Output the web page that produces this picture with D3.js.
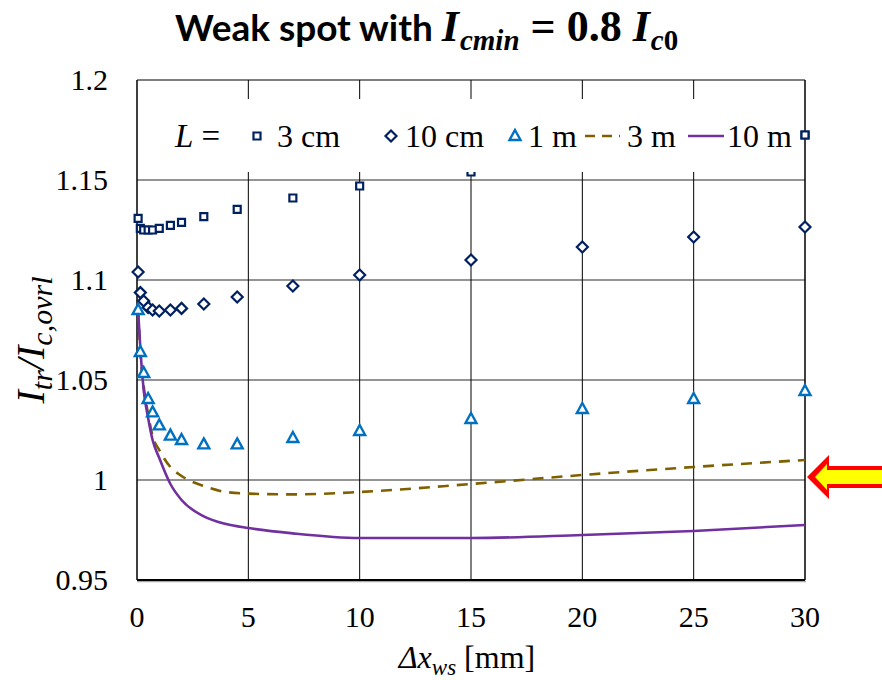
<!DOCTYPE html>
<html lang="en">
<head>
<meta charset="utf-8">
<title>Weak spot</title>
<script src="https://cdn.jsdelivr.net/npm/d3@7"></script>
<style>
  body { margin: 0; background: #fff; }
</style>
</head>
<body>
<script>
// x positions (mm) where the markers were computed
var xMarkers = [0.05, 0.15, 0.3, 0.5, 0.7, 1, 1.5, 2, 3, 4.5, 7, 10, 15, 20, 25, 30];
var y3cm  = [1.1308, 1.1258, 1.125, 1.125, 1.125, 1.1258, 1.1273, 1.1288, 1.1317, 1.1353, 1.141, 1.147, 1.154, 1.160, 1.166, 1.1725];
var y10cm = [1.104, 1.0937, 1.0895, 1.0863, 1.085, 1.0845, 1.085, 1.0858, 1.088, 1.0915, 1.097, 1.1025, 1.110, 1.1165, 1.1215, 1.1265];
var y1m   = [1.085, 1.064, 1.0535, 1.0405, 1.0338, 1.0273, 1.0222, 1.020, 1.0178, 1.0178, 1.021, 1.0245, 1.0305, 1.0355, 1.0405, 1.0445];

// the two curves
var xLines = [0.05, 0.15, 0.3, 0.5, 0.7, 1, 1.5, 2, 3, 4, 5, 7, 10, 15, 20, 25, 30];
var y3m  = [1.085, 1.064, 1.047, 1.033, 1.022, 1.015, 1.0065, 1.002, 0.997, 0.994, 0.9932, 0.9928, 0.994, 0.998, 1.0025, 1.0065, 1.010];
var y10m = [1.085, 1.066, 1.045, 1.031, 1.020, 1.011, 0.998, 0.990, 0.9818, 0.978, 0.976, 0.9733, 0.971, 0.971, 0.9725, 0.9745, 0.9775];

var xTicks = [0, 5, 10, 15, 20, 25, 30];
var yTicks = [0.95, 1, 1.05, 1.1, 1.15, 1.2];
var yTickLabels = ["0.95", "1", "1.05", "1.1", "1.15", "1.2"];

var w = 882, h = 680;
// plot area edges (named so they don't clash with window.top)
var padL = 137, padR = 805, padT = 80, padB = 580;
var serif = "'Liberation Serif', Tinos, 'Times New Roman', Times, serif";

var svg = d3.select("body").append("svg")
  .attr("width", w).attr("height", h)
  .attr("font-family", serif);

var xScale = d3.scaleLinear().domain([0, 30]).range([padL, padR]);
var yScale = d3.scaleLinear().domain([0.95, 1.2]).range([padB, padT]);

// gridlines
svg.append("g").selectAll("line")
  .data(yTicks.slice(1, -1))
  .enter().append("line")
  .attr("x1", padL).attr("x2", padR)
  .attr("y1", function(d) { return yScale(d); })
  .attr("y2", function(d) { return yScale(d); })
  .attr("stroke", "#707070").attr("stroke-width", 1.6);

svg.append("g").selectAll("line")
  .data(xTicks.slice(1, -1))
  .enter().append("line")
  .attr("y1", padT).attr("y2", padB)
  .attr("x1", function(d) { return xScale(d); })
  .attr("x2", function(d) { return xScale(d); })
  .attr("stroke", "#000").attr("stroke-width", 1);

// frame
svg.append("line").attr("x1", padL).attr("x2", padR).attr("y1", padT).attr("y2", padT)
  .attr("stroke", "#000").attr("stroke-width", 1.2);
svg.append("line").attr("x1", padR).attr("x2", padR).attr("y1", padT).attr("y2", padB)
  .attr("stroke", "#000").attr("stroke-width", 1.5);
svg.append("line").attr("x1", padL).attr("x2", padR + 1).attr("y1", padB + 1.5).attr("y2", padB + 1.5)
  .attr("stroke", "#aaa").attr("stroke-width", 1.5);
svg.append("line").attr("x1", padL).attr("x2", padL).attr("y1", padT).attr("y2", padB)
  .attr("stroke", "#000").attr("stroke-width", 1.5);
svg.append("line").attr("x1", padL).attr("x2", padR).attr("y1", padB).attr("y2", padB)
  .attr("stroke", "#000").attr("stroke-width", 2);

// tick labels
svg.append("g").selectAll("text")
  .data(yTicks)
  .enter().append("text")
  .attr("x", 108)
  .attr("y", function(d) { return yScale(d) + 10; })
  .attr("text-anchor", "end")
  .attr("font-family", serif)
  .attr("font-size", 30)
  .text(function(d, i) { return yTickLabels[i]; });

svg.append("g").selectAll("text")
  .data(xTicks)
  .enter().append("text")
  .attr("x", function(d) { return xScale(d); })
  .attr("y", 627)
  .attr("text-anchor", "middle")
  .attr("font-family", serif)
  .attr("font-size", 30)
  .text(function(d) { return d; });

// curves
var line = function(ys) {
  return d3.line()
    .x(function(d, i) { return xScale(xLines[i]); })
    .y(function(d) { return yScale(d); })
    .curve(d3.curveMonotoneX)(ys);
};

svg.append("path").attr("d", line(y3m))
  .attr("fill", "none").attr("stroke", "#7F6000").attr("stroke-width", 2.6)
  .attr("stroke-dasharray", "11,8");
svg.append("path").attr("d", line(y10m))
  .attr("fill", "none").attr("stroke", "#7030A0").attr("stroke-width", 2.6);

// marker shapes
var squarePath = function(x, y) {
  return "M" + (x - 3.5) + "," + (y - 3.5) + "h7v7h-7Z";
};
var diamondPath = function(x, y) {
  return "M" + x + "," + (y - 5.5) + "L" + (x + 5.5) + "," + y + "L" + x + "," + (y + 5.5) + "L" + (x - 5.5) + "," + y + "Z";
};
var trianglePath = function(x, y) {
  return "M" + x + "," + (y - 6) + "L" + (x + 5.5) + "," + (y + 4) + "L" + (x - 5.5) + "," + (y + 4) + "Z";
};

var drawMarkers = function(ys, shape, color, sw) {
  svg.append("g").selectAll("path")
    .data(ys)
    .enter().append("path")
    .attr("d", function(d, i) { return shape(xScale(xMarkers[i]), yScale(d)); })
    .attr("fill", "#fff").attr("stroke", color).attr("stroke-width", sw);
};

drawMarkers(y3cm, squarePath, "#002060", 2.2);
drawMarkers(y10cm, diamondPath, "#002060", 2.2);
drawMarkers(y1m, trianglePath, "#0070C0", 2.4);

// legend
var lg = svg.append("g").attr("font-family", serif);
lg.append("rect").attr("x", 146).attr("y", 99).attr("width", 652).attr("height", 73)
  .attr("fill", "#fff");
var ly = 147;
lg.append("text").attr("x", 175).attr("y", ly).attr("font-size", 33)
  .html('<tspan font-style="italic">L</tspan> =');
lg.append("path").attr("d", squarePath(257, ly - 11))
  .attr("fill", "#fff").attr("stroke", "#002060").attr("stroke-width", 2.2);
lg.append("text").attr("x", 277).attr("y", ly).attr("font-size", 32).text("3 cm");
lg.append("path").attr("d", diamondPath(391, ly - 11))
  .attr("fill", "#fff").attr("stroke", "#002060").attr("stroke-width", 2.2);
lg.append("text").attr("x", 405).attr("y", ly).attr("font-size", 32).text("10 cm");
lg.append("path").attr("d", trianglePath(515, ly - 11))
  .attr("fill", "#fff").attr("stroke", "#0070C0").attr("stroke-width", 2.4);
lg.append("text").attr("x", 528).attr("y", ly).attr("font-size", 32).text("1 m");
lg.append("line").attr("x1", 585).attr("x2", 620).attr("y1", ly - 11).attr("y2", ly - 11)
  .attr("stroke", "#7F6000").attr("stroke-width", 2.6).attr("stroke-dasharray", "10,7");
lg.append("text").attr("x", 627).attr("y", ly).attr("font-size", 32).text("3 m");
lg.append("line").attr("x1", 688).attr("x2", 724).attr("y1", ly - 11).attr("y2", ly - 11)
  .attr("stroke", "#7030A0").attr("stroke-width", 2.6);
lg.append("text").attr("x", 727).attr("y", ly).attr("font-size", 32).text("10 m");

// the last 3 cm marker sits on the frame, above the legend
svg.append("path").attr("d", squarePath(xScale(30), yScale(y3cm[y3cm.length - 1])))
  .attr("fill", "#fff").attr("stroke", "#002060").attr("stroke-width", 2.2);

// title: sans words, serif math
svg.append("text").attr("x", 175).attr("y", 41)
  .attr("font-family", serif)
  .attr("font-weight", "bold")
  .html('<tspan font-family="Lato, sans-serif" font-size="37">Weak spot with </tspan>' +
        '<tspan font-style="italic" font-size="44">I</tspan>' +
        '<tspan font-style="italic" font-size="29" dx="1" dy="9">cmin</tspan>' +
        '<tspan font-size="44" dy="-9"> = 0.8 </tspan>' +
        '<tspan font-style="italic" font-size="44">I</tspan>' +
        '<tspan font-style="italic" font-size="29" dx="1" dy="9">c</tspan>' +
        '<tspan font-size="29">0</tspan>');

// axis titles
svg.append("text").attr("x", 467).attr("y", 668).attr("text-anchor", "middle")
  .attr("font-family", serif)
  .attr("font-size", 32)
  .html('<tspan font-style="italic">Δx</tspan><tspan font-style="italic" font-size="23" dy="7">ws</tspan><tspan dy="-7"> [mm]</tspan>');

svg.append("text")
  .attr("transform", "translate(44,340) rotate(-90)")
  .attr("text-anchor", "middle")
  .attr("font-family", serif)
  .attr("font-size", 40)
  .html('<tspan font-style="italic">I</tspan><tspan font-style="italic" font-size="30" dy="8">tr</tspan>' +
        '<tspan font-style="italic" dy="-8">/I</tspan><tspan font-style="italic" font-size="30" dy="8">c,ovrl</tspan>');

// arrow pointing at the 1.0 line
var arrow = svg.append("g");
arrow.append("path")
  .attr("d", "M807,477 L829,455 L829,466 L890,466 L890,488 L829,488 L829,499 Z")
  .attr("fill", "#ff0000");
arrow.append("path")
  .attr("d", "M815,477 L827,464 L827,470 L890,470 L890,484 L827,484 L827,490 Z")
  .attr("fill", "#ffff00");
</script>
</body>
</html>
